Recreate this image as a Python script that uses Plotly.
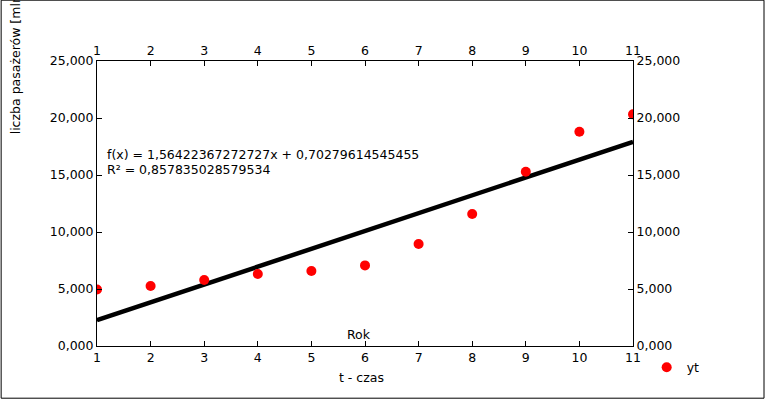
import plotly.graph_objects as go

# ---- data ----
t = [1, 2, 3, 4, 5, 6, 7, 8, 9, 10, 11]
yt = [4.96, 5.26, 5.79, 6.32, 6.58, 7.07, 8.95, 11.58, 15.29, 18.80, 20.32]
SLOPE = 1.56422367272727
INTERCEPT = 0.70279614545455
R2 = 0.857835028579534
x_ticks = [1, 2, 3, 4, 5, 6, 7, 8, 9, 10, 11]
y_ticks = [0, 5, 10, 15, 20, 25]

W, H = 765, 399
L, R, T, B = 96.5, 633.3, 61.3, 346.3  # plot area in pixels


def px(x):
    return (x - L) / (R - L)


def py(y):
    return (B - y) / (B - T)


FONT = dict(family="DejaVu Sans", size=12.5, color="black")

trend_x = [t[0], t[-1]]
trend_y = [SLOPE * v + INTERCEPT for v in trend_x]

fig = go.Figure()
fig.add_trace(go.Scatter(x=trend_x, y=trend_y, mode="lines",
                         line=dict(color="black", width=4.5),
                         showlegend=False, hoverinfo="skip"))
fig.add_trace(go.Scatter(x=t, y=yt, mode="markers", name="yt",
                         marker=dict(color="#ff0000", size=10)))
# invisible trace for the mirrored (top/right) axes
fig.add_trace(go.Scatter(x=t, y=yt, xaxis="x2", yaxis="y2", mode="markers",
                         marker=dict(opacity=0), showlegend=False,
                         hoverinfo="skip"))

axis_common = dict(showgrid=False, zeroline=False, showline=True,
                   linecolor="black", linewidth=1, ticks="inside",
                   ticklen=5, tickcolor="black", tickfont=FONT)

fig.update_layout(
    width=W, height=H,
    margin=dict(l=L, r=W - R, t=T, b=H - B, pad=0),
    paper_bgcolor="white", plot_bgcolor="white",
    separators=", ",
    font=FONT,
    xaxis=dict(range=[1, 11], tickvals=x_ticks, **axis_common),
    yaxis=dict(range=[0, 25], tickvals=y_ticks, tickformat=".3f",
               **axis_common),
    xaxis2=dict(range=[1, 11], tickvals=x_ticks, overlaying="x",
                side="top", **axis_common),
    yaxis2=dict(range=[0, 25], tickvals=y_ticks, tickformat=".3f",
                overlaying="y", side="right", **axis_common),
    legend=dict(x=px(647), y=py(368), xanchor="left", yanchor="middle",
                font=FONT, bgcolor="rgba(0,0,0,0)", itemwidth=30),
    showlegend=True,
)

ann = [
    dict(text="f(x) = 1,56422367272727x + 0,70279614545455",
         x=px(105), y=py(155), xanchor="left", yanchor="middle"),
    dict(text="R² = 0,857835028579534",
         x=px(105), y=py(169.5), xanchor="left", yanchor="middle"),
    dict(text="Rok", x=px(359), y=py(334.5), xanchor="center",
         yanchor="middle"),
    dict(text="t - czas", x=px(361), y=py(377.5), xanchor="center",
         yanchor="middle"),
    dict(text="liczba pasażerów [mln]", x=px(15), y=py(137),
         xanchor="center", yanchor="bottom", textangle=-90),
]
for a in ann:
    fig.add_annotation(xref="paper", yref="paper", showarrow=False,
                       font=FONT, **a)

# outer border of the picture
fig.add_shape(type="rect", xref="paper", yref="paper",
              x0=px(0.5), x1=px(W - 0.5), y0=py(H - 0.5), y1=py(0.5),
              line=dict(color="black", width=1), layer="above")

fig.write_html("out.html",
               config={"displayModeBar": False},
               post_script="document.body.style.margin='0';"
                           "document.body.style.overflow='hidden';")
